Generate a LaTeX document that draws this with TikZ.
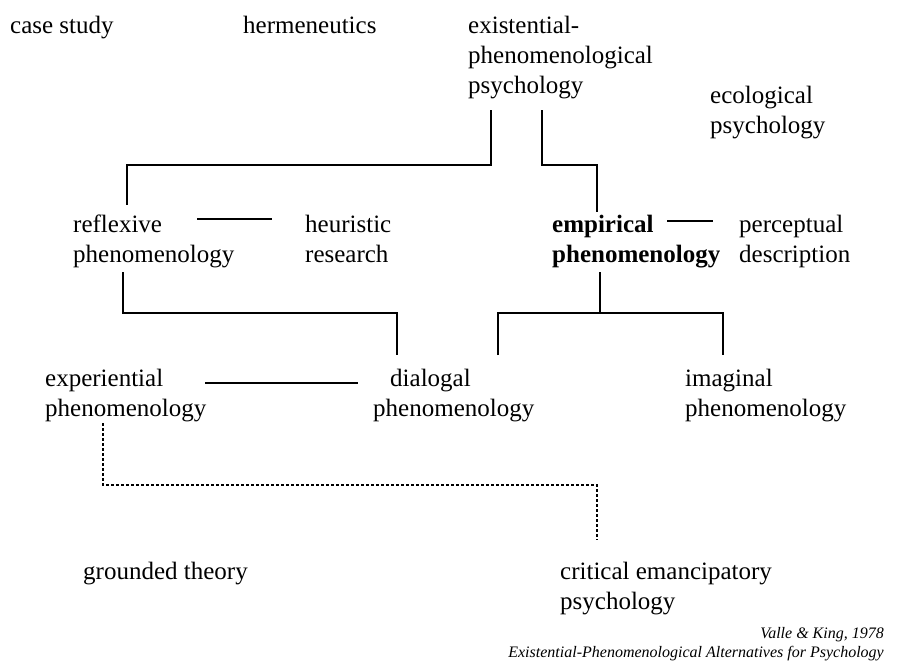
\documentclass[tikz,border=0pt]{standalone}
\usepackage{fontspec}
\setmainfont{Liberation Serif}
\begin{document}
\begin{tikzpicture}[x=1pt,y=-1pt,
  lbl/.style={anchor=base west, inner sep=0pt, align=left,
              font=\fontsize{25}{30}\selectfont},
  link/.style={line width=1.8pt},
  dotlink/.style={line width=1.6pt, dash pattern=on 3pt off 2pt}]
\fill[white] (0,0) rectangle (897,662);
\useasboundingbox (0,0) rectangle (897,662);

% labels (each placed at the baseline of its last line)
\node[lbl] (case)  at (10,33)  {case study};
\node[lbl] (herm)  at (243,33) {hermeneutics};
\node[lbl] (exist) at (468,93) {existential-\\phenomenological\\psychology};
\node[lbl] (eco)   at (710,133) {ecological\\psychology};
\node[lbl] (refl)  at (73,262)  {reflexive\\phenomenology};
\node[lbl] (heur)  at (305,262) {heuristic\\research};
\node[lbl,font=\fontsize{25}{30}\selectfont\bfseries] (emp) at (552,262) {empirical\\phenomenology};
\node[lbl] (perc)  at (739,262) {perceptual\\description};
\node[lbl] (expe)  at (45,416)  {experiential\\phenomenology};
\node[lbl] (dial)  at (373,416) {\hspace*{17pt}dialogal\\phenomenology};
\node[lbl] (imag)  at (685,416) {imaginal\\phenomenology};
\node[lbl] (grnd)  at (83,579)  {grounded theory};
\node[lbl] (crit)  at (560,609) {critical emancipatory\\psychology};
\node[anchor=base east, inner sep=0pt, align=right,
      font=\fontsize{16}{19}\selectfont\itshape] (cite) at (884,657)
      {Valle \& King, 1978\\Existential-Phenomenological Alternatives for Psychology};

% attachment points of the connectors
\coordinate (exL) at (491,110);
\coordinate (exR) at (542,110);
\coordinate (reT) at (127,205);
\coordinate (emT) at (597,212);
\coordinate (reB) at (123,272);
\coordinate (emB) at (600,272);
\coordinate (diT) at (397,355);
\coordinate (diT2) at (498,355);
\coordinate (imT) at (723,355);
\coordinate (rhA) at (197,219);
\coordinate (rhB) at (272,219);
\coordinate (epA) at (667,221);
\coordinate (epB) at (713,221);
\coordinate (edA) at (205,383);
\coordinate (edB) at (358,383);
\coordinate (exB) at (103,423);
\coordinate (crT) at (597,540);

% tree connectors
\draw[link] (exL) -- (491,165) -| (reT);
\draw[link] (exR) -- (542,165) -| (emT);
\draw[link] (reB) -- (123,313) -| (diT);
\draw[link] (emB) -- (600,313);
\draw[link] (diT2) |- (imT |- 0,313) -- (imT);
\draw[link] (rhA) -- (rhB);
\draw[link] (epA) -- (epB);
\draw[link] (edA) -- (edB);
\draw[dotlink] (exB) |- (crT |- 0,485) -- (crT);
\end{tikzpicture}
\end{document}
